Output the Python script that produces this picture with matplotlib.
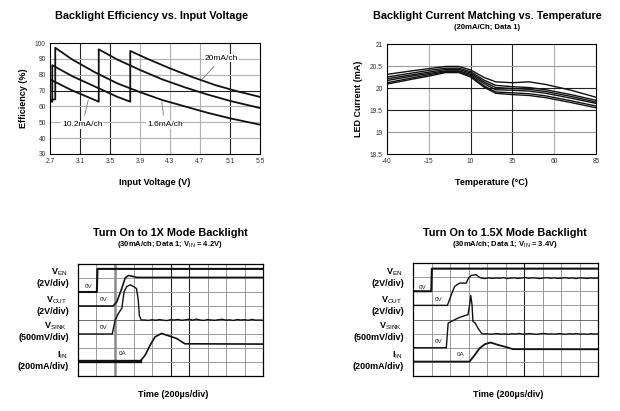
import numpy as np
import matplotlib
matplotlib.use("Agg")
import matplotlib.pyplot as plt

plt.rcParams['font.family'] = ['Liberation Sans', 'DejaVu Sans']
plt.rcParams['mathtext.fontset'] = 'custom'
plt.rcParams['mathtext.rm'] = 'Liberation Sans'
plt.rcParams['mathtext.bf'] = 'Liberation Sans:bold'
plt.rcParams['axes.unicode_minus'] = False

W, H = 620, 411

# ---- efficiency vs input voltage ----
V_16 = [2.70, 2.77, 2.77, 3.0, 3.3, 3.6, 3.9, 4.2, 4.5, 4.8, 5.1, 5.5]
E_16 = [64, 64.5, 97, 89.5, 81.5, 74.5, 69, 64, 60, 56, 52.5, 48.5]
V_102 = [2.70, 3.0, 3.2, 3.35, 3.35, 3.6, 3.9, 4.2, 4.5, 4.8, 5.1, 5.5]
E_102 = [77, 70, 66, 63, 96, 89.5, 83, 77, 72, 67.5, 63.5, 59]
V_20 = [2.70, 2.73, 2.73, 3.0, 3.3, 3.6, 3.77, 3.77, 4.0, 4.3, 4.6, 4.9, 5.2, 5.5]
E_20 = [63, 63, 86, 79, 72.5, 66, 63, 95, 90, 84, 78.5, 73.5, 69.5, 66]
V_TICKS = [2.7, 3.1, 3.5, 3.9, 4.3, 4.7, 5.1, 5.5]
E_TICKS = [30, 40, 50, 60, 70, 80, 90, 100]

# ---- LED current vs temperature ----
TEMPS = [-40, -25, -15, -5, 3, 10, 18, 25, 35, 45, 55, 70, 85]
I_CH = [
    [20.31, 20.39, 20.44, 20.49, 20.49, 20.41, 20.24, 20.14, 20.12, 20.14, 20.08, 19.95, 19.79],
    [20.25, 20.34, 20.40, 20.45, 20.45, 20.37, 20.18, 20.06, 20.03, 20.01, 19.96, 19.85, 19.72],
    [20.21, 20.30, 20.36, 20.42, 20.42, 20.34, 20.14, 20.01, 19.99, 19.97, 19.92, 19.81, 19.68],
    [20.17, 20.27, 20.33, 20.39, 20.39, 20.31, 20.10, 19.96, 19.95, 19.93, 19.88, 19.77, 19.65],
    [20.12, 20.23, 20.30, 20.37, 20.37, 20.28, 20.05, 19.91, 19.89, 19.87, 19.82, 19.71, 19.59],
    [20.09, 20.20, 20.27, 20.35, 20.35, 20.25, 20.02, 19.88, 19.85, 19.83, 19.78, 19.67, 19.55],
]
T_TICKS = [-40, -15, 10, 35, 60, 85]
I_TICKS = [18.5, 19, 19.5, 20, 20.5, 21]
I_LABELS = ['18.5', '19', '19.5', '20', '20.5', '21']

# ---- scope traces, 1X mode (divisions) ----
A_VEN_X = [0, 1.02, 1.05, 10]
A_VEN_Y = [6.0, 6.0, 7.65, 7.65]
A_VOUT_X = [0, 1.9, 2.1, 2.37, 2.55, 2.73, 3.0, 3.2, 10]
A_VOUT_Y = [5.0, 5.0, 5.3, 6.27, 7.0, 7.18, 7.1, 7.04, 7.04]
A_SINK_X = [0, 1.85, 2.01, 2.19, 2.37, 2.49, 2.64, 2.82, 3.0, 3.16, 3.25, 3.32, 3.42]
A_SINK_Y = [3.0, 3.0, 4.0, 4.48, 4.84, 6.03, 6.39, 6.51, 6.39, 6.25, 5.5, 4.3, 4.0]
A_SINK_TAIL = [4.0, 3.97, 4.02, 3.98, 4.03, 3.99, 3.96, 4.02, 4.0, 4.04, 3.98, 4.01,
               4.05, 3.99, 4.06, 4.0, 3.97, 4.03, 4.0, 3.98, 4.02, 4.05, 3.99, 4.01,
               3.97, 4.03, 4.0, 4.02, 3.98, 4.04, 3.99, 4.0, 3.98]
A_IIN_X = [0, 3.36, 3.63, 3.9, 4.17, 4.52, 4.79, 5.33, 5.78, 10]
A_IIN_Y = [1.05, 1.05, 1.49, 2.2, 2.8, 3.04, 2.92, 2.68, 2.3, 2.28]

# ---- scope traces, 1.5X mode ----
B_VEN_X = [0, 0.99, 1.02, 10]
B_VEN_Y = [6.0, 6.0, 7.6, 7.6]
B_VOUT_X = [0, 1.86, 2.07, 2.25, 2.52, 2.88, 3.0, 3.15, 3.42, 3.6]
B_VOUT_Y = [5.0, 5.0, 5.75, 6.34, 6.58, 6.58, 6.93, 7.12, 7.17, 6.98]
B_VOUT_TAIL = [6.93, 6.90, 6.95, 6.91, 6.94, 6.92, 6.96, 6.90, 6.93, 6.95, 6.91,
               6.94, 6.97, 6.92, 6.95, 6.93, 6.90, 6.94, 6.96, 6.92, 6.95, 6.91,
               6.93, 6.96, 6.92, 6.94, 6.90, 6.95, 6.93, 6.91, 6.94, 6.92, 6.93]
B_SINK_X = [0, 1.8, 1.9, 2.07, 2.43, 2.8, 2.97, 3.06, 3.12, 3.19, 3.24, 3.37, 3.51, 3.7]
B_SINK_Y = [2.0, 2.0, 3.74, 3.86, 4.1, 4.28, 4.33, 5.04, 5.7, 5.04, 3.86, 3.74, 3.39, 3.03]
B_SINK_TAIL = [2.97, 2.99, 2.95, 2.98, 3.0, 2.96, 2.98, 2.95, 2.99, 2.97, 3.01,
               2.96, 2.98, 3.0, 2.97, 2.95, 2.99, 3.01, 2.97, 2.98, 2.96, 3.0,
               2.98, 2.95, 2.99, 2.97, 3.0, 2.96, 2.98, 2.95, 2.99, 2.97, 2.98]
B_IIN_X = [0, 3.06, 3.34, 3.6, 3.88, 4.2, 4.6, 5.14, 5.4, 10]
B_IIN_Y = [1.02, 1.02, 1.49, 1.96, 2.25, 2.37, 2.2, 2.01, 1.9, 1.89]

TRACE_NAMES = [r'V$_{\mathrm{EN}}$', r'V$_{\mathrm{OUT}}$', r'V$_{\mathrm{SINK}}$', r'I$_{\mathrm{IN}}$']
TRACE_SCALES = ['(2V/div)', '(2V/div)', '(500mV/div)', '(200mA/div)']


def px_axes(x0, y0, x1, y1):
    return fig.add_axes([x0 / W, 1 - y1 / H, (x1 - x0) / W, (y1 - y0) / H])


def ftext(x, y, s, **kw):
    fig.text(x / W, 1 - y / H, s, **kw)


fig = plt.figure(figsize=(W / 100, H / 100), dpi=100)
fig.patch.set_facecolor('white')

LIGHT, DARK = '#b0b0b0', '#222222'

# ───── Efficiency ─────
ax = px_axes(50, 43, 260, 154)
for v in V_TICKS[1:-1]:
    ax.axvline(v, color=DARK if v in (3.1, 3.5, 5.1) else LIGHT, lw=0.8, zorder=0)
for e in E_TICKS[1:-1]:
    ax.axhline(e, color=DARK if e == 70 else LIGHT, lw=0.8, zorder=0)
for vx, ey in [(V_16, E_16), (V_102, E_102), (V_20, E_20)]:
    ax.plot(vx, ey, color='#111111', lw=1.3)
ax.set_xlim(2.7, 5.5)
ax.set_ylim(30, 100)
ax.set_xticks(V_TICKS)
ax.set_yticks(E_TICKS)
ax.tick_params(length=0, labelsize=4.8, pad=3, colors='#333333')
for s in ax.spines.values():
    s.set_linewidth(0.8)
ax.set_xlabel('Input Voltage (V)', fontsize=6.5, fontweight='bold', labelpad=9)
ax.set_ylabel('Efficiency (%)', fontsize=6.5, fontweight='bold', labelpad=5)
box = dict(facecolor='white', edgecolor='none', pad=0.5)
ax.annotate('20mA/ch', xy=(4.72, 76.7), xytext=(4.99, 90.5), fontsize=6, ha='center', va='center',
            bbox=box, arrowprops=dict(arrowstyle='-', color='#777777', lw=0.6, shrinkA=4, shrinkB=0))
ax.annotate('10.2mA/ch', xy=(3.21, 64), xytext=(3.13, 48.3), fontsize=6, ha='center', va='center',
            bbox=box, arrowprops=dict(arrowstyle='-', color='#777777', lw=0.6, shrinkA=4, shrinkB=0))
ax.annotate('1.6mA/ch', xy=(4.19, 63), xytext=(4.23, 48.3), fontsize=6, ha='center', va='center',
            bbox=box, arrowprops=dict(arrowstyle='-', color='#777777', lw=0.6, shrinkA=4, shrinkB=0))
ftext(152, 16, 'Backlight Efficiency vs. Input Voltage', fontsize=7.8, fontweight='bold',
      ha='center', va='center')

# ───── Current matching ─────
ax = px_axes(387, 44, 596, 154)
for t in T_TICKS[1:-1]:
    ax.axvline(t, color=DARK if t in (10, 35) else LIGHT, lw=0.8, zorder=0)
for i in I_TICKS[1:-1]:
    ax.axhline(i, color=DARK if i in (20, 19.5) else '#999999', lw=0.8, zorder=0)
for curve in I_CH:
    ax.plot(TEMPS, curve, color='#111111', lw=1.0)
ax.set_xlim(-40, 85)
ax.set_ylim(18.5, 21)
ax.set_xticks(T_TICKS)
ax.set_yticks(I_TICKS)
ax.set_yticklabels(I_LABELS)
ax.tick_params(length=0, labelsize=4.8, pad=3, colors='#333333')
for s in ax.spines.values():
    s.set_linewidth(0.8)
ax.set_xlabel('Temperature (°C)', fontsize=6.5, fontweight='bold', labelpad=9)
ax.set_ylabel('LED Current (mA)', fontsize=6.5, fontweight='bold', labelpad=5)
ftext(487, 16, 'Backlight Current Matching vs. Temperature', fontsize=7.8, fontweight='bold',
      ha='center', va='center')
ftext(487, 27.5, '(20mA/Ch; Data 1)', fontsize=5.5, fontweight='bold', ha='center', va='center')


# ───── Scope shots ─────
def scope(x0, y0, x1, y1, dark_x, trig_x):
    a = px_axes(x0, y0, x1, y1)
    for k in range(1, 10):
        a.axvline(k, color=DARK if k in dark_x else '#8a8a8a', lw=0.8 if k in dark_x else 0.6, zorder=0)
    for k in range(1, 8):
        a.axhline(k, color='#555555' if k == 4 else '#8a8a8a', lw=0.6, zorder=0)
    if trig_x is not None:
        a.axvline(trig_x, color='#8a8a8a', lw=1.8, zorder=0)
    a.set_xlim(0, 10)
    a.set_ylim(0, 8)
    a.set_xticks([])
    a.set_yticks([])
    for s in a.spines.values():
        s.set_linewidth(0.9)
    return a


def trace_labels(xr, ys):
    for name, scale, yc in zip(TRACE_NAMES, TRACE_SCALES, ys):
        ftext(xr - 2, yc - 5.5, name, fontsize=6.5, fontweight='bold', ha='right', va='center')
        ftext(xr, yc + 5.5, scale, fontsize=6.5, fontweight='bold', ha='right', va='center')


lab = dict(fontsize=4.5, ha='left', va='center', color='#222222')

ax = scope(78, 264, 263, 376, dark_x=(5, 6), trig_x=2)
ax.plot(A_VEN_X, A_VEN_Y, color='#111111', lw=1.5)
ax.plot(A_VOUT_X, A_VOUT_Y, color='#111111', lw=1.2)
ax.plot(A_SINK_X + list(np.linspace(3.6, 10, len(A_SINK_TAIL))),
        A_SINK_Y + A_SINK_TAIL, color='#111111', lw=1.0)
ax.plot(A_IIN_X, A_IIN_Y, color='#111111', lw=1.2)
ax.plot(A_IIN_X[:2], A_IIN_Y[:2], color='#111111', lw=2.4)
ax.text(0.35, 6.4, '0V', **lab)
ax.text(1.2, 5.43, '0V', **lab)
ax.text(1.2, 3.45, '0V', **lab)
ax.text(2.2, 1.6, '0A', **lab)
trace_labels(69, [277.5, 305.5, 332, 361])
ftext(170, 232.5, 'Turn On to 1X Mode Backlight', fontsize=7.8, fontweight='bold',
      ha='center', va='center')
ftext(170, 244.5, r'(30mA/ch; Data 1; V$_{\mathrm{IN}}$ = 4.2V)', fontsize=5.5, fontweight='bold',
      ha='center', va='center')
ftext(173, 394, 'Time (200µs/div)', fontsize=6.5, fontweight='bold', ha='center', va='center')

ax = scope(413, 263, 598, 376, dark_x=(6,), trig_x=None)
ax.plot(B_VEN_X, B_VEN_Y, color='#111111', lw=1.5)
ax.plot(B_VOUT_X + list(np.linspace(3.7, 10, len(B_VOUT_TAIL))),
        B_VOUT_Y + B_VOUT_TAIL, color='#111111', lw=1.0)
ax.plot(B_SINK_X + list(np.linspace(3.8, 10, len(B_SINK_TAIL))),
        B_SINK_Y + B_SINK_TAIL, color='#111111', lw=1.0)
ax.plot(B_IIN_X, B_IIN_Y, color='#111111', lw=1.3)
ax.text(0.3, 6.3, '0V', **lab)
ax.text(1.2, 5.4, '0V', **lab)
ax.text(1.2, 2.44, '0V', **lab)
ax.text(2.35, 1.54, '0A', **lab)
trace_labels(404, [277.5, 305.5, 332, 361])
ftext(505, 232.5, 'Turn On to 1.5X Mode Backlight', fontsize=7.8, fontweight='bold',
      ha='center', va='center')
ftext(505, 244.5, r'(30mA/ch; Data 1; V$_{\mathrm{IN}}$ = 3.4V)', fontsize=5.5, fontweight='bold',
      ha='center', va='center')
ftext(508, 394, 'Time (200µs/div)', fontsize=6.5, fontweight='bold', ha='center', va='center')

fig.savefig('out.png', dpi=100, facecolor='white')
